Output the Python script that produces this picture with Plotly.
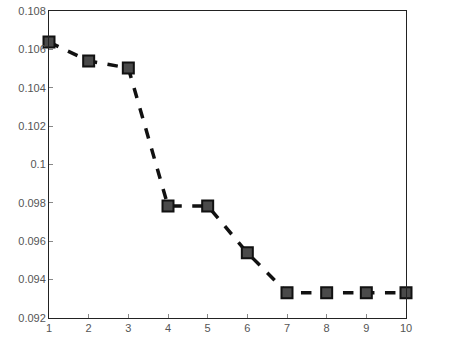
import plotly.graph_objects as go

x_vals = [1, 2, 3, 4, 5, 6, 7, 8, 9, 10]
y_vals = [0.10638, 0.1054, 0.10503, 0.09784, 0.09784, 0.0954, 0.09332, 0.09332, 0.09332, 0.09332]
y_ticks = [0.092, 0.094, 0.096, 0.098, 0.1, 0.102, 0.104, 0.106, 0.108]
y_ticktext = ["0.092", "0.094", "0.096", "0.098", "0.1", "0.102", "0.104", "0.106", "0.108"]

fig = go.Figure()
fig.add_trace(go.Scatter(
    x=x_vals, y=y_vals, mode="lines+markers",
    line=dict(color="#111111", width=3.5, dash="dash"),
    marker=dict(symbol="square", size=11, color="#4a4a4a", line=dict(color="#111111", width=2)),
    cliponaxis=False,
))
fig.update_layout(
    width=456, height=344,
    margin=dict(l=49, r=50, t=11, b=26),
    paper_bgcolor="white", plot_bgcolor="white",
    showlegend=False,
    font=dict(family="Liberation Sans, Arial", size=11, color="#555555"),
)
fig.update_xaxes(
    range=[1, 10], tickvals=x_vals, ticks="inside", ticklen=4, tickcolor="#888888",
    showline=True, linecolor="#222222", linewidth=1, mirror=True, showgrid=False, zeroline=False,
    automargin=False,
)
fig.update_yaxes(
    range=[0.092, 0.108], tickvals=y_ticks, ticktext=y_ticktext, ticks="inside", ticklen=4,
    tickcolor="#888888", showline=True, linecolor="#222222", linewidth=1, mirror=True,
    showgrid=False, zeroline=False, automargin=False,
)
fig.write_html(
    "out.html",
    config={"displayModeBar": False},
    post_script="document.body.style.margin='0px';document.body.style.overflow='hidden';",
)
